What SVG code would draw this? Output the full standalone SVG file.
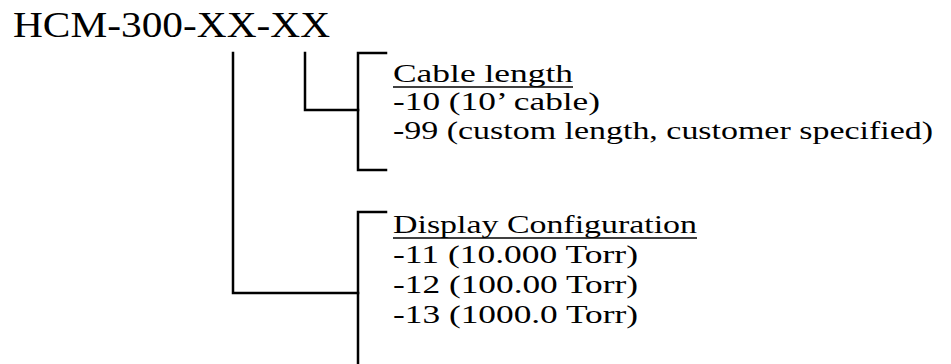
<svg xmlns="http://www.w3.org/2000/svg" width="951" height="364" viewBox="0 0 951 364">
<style>
.t{font-family:"Liberation Serif","Times New Roman",serif;fill:#000;}
.b{font-size:26px;}
.ln{fill:none;stroke:#000;stroke-width:2.5;stroke-linecap:square;}
.u{stroke:#000;stroke-width:1.5;}
</style>
<rect width="951" height="364" fill="#fff"/>
<g id="title">
<text class="t" x="13" y="37" font-size="36" textLength="317" lengthAdjust="spacingAndGlyphs">HCM-300-XX-XX</text>
</g>
<g id="connectors">
<path class="ln" d="M233,53 V293 H358"/>
<path class="ln" d="M305,53 V110 H358"/>
<path class="ln" d="M386,53 H358 V170 H386"/>
<path class="ln" d="M386,212 H358 V366"/>
</g>
<g id="cable-length">
<text class="t b" x="393" y="82" textLength="180" lengthAdjust="spacingAndGlyphs">Cable length</text>
<line class="u" x1="393" y1="87" x2="573" y2="87"/>
<text class="t b" x="393" y="110" textLength="207" lengthAdjust="spacingAndGlyphs">-10 (10’ cable)</text>
<text class="t b" x="393" y="139" textLength="540" lengthAdjust="spacingAndGlyphs">-99 (custom length, customer specified)</text>
</g>
<g id="display-configuration">
<text class="t b" x="393" y="233" textLength="304" lengthAdjust="spacingAndGlyphs">Display Configuration</text>
<line class="u" x1="393" y1="238" x2="697" y2="238"/>
<text class="t b" x="393" y="263" textLength="245" lengthAdjust="spacingAndGlyphs">-11 (10.000 Torr)</text>
<text class="t b" x="393" y="293" textLength="245" lengthAdjust="spacingAndGlyphs">-12 (100.00 Torr)</text>
<text class="t b" x="393" y="323" textLength="245" lengthAdjust="spacingAndGlyphs">-13 (1000.0 Torr)</text>
</g>
</svg>
